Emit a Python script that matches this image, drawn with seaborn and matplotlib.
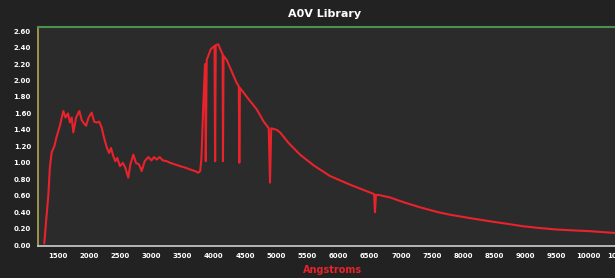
import numpy as np
import seaborn as sns
import matplotlib
matplotlib.use("Agg")
import matplotlib.pyplot as plt

# spectrum (wavelength in Angstroms, relative flux)
wavelength = [
    1280, 1310, 1344, 1370, 1399, 1440, 1479, 1530, 1585, 1620, 1660, 1692,
    1720, 1745, 1790, 1842, 1880, 1906, 1950, 1990, 2040, 2080, 2120, 2160,
    2200, 2240, 2281, 2320, 2350, 2387, 2420, 2450, 2494, 2540, 2580, 2627,
    2660, 2708, 2750, 2800, 2842, 2890, 2948, 3000, 3040, 3083, 3130, 3180,
    3243, 3300, 3380, 3457, 3550, 3617, 3697, 3750, 3780, 3800, 3830, 3858,
    3870, 3885, 3950, 4010, 4020, 4030, 4071, 4120, 4140, 4146, 4155, 4206,
    4280, 4360, 4400, 4408, 4418, 4550, 4687, 4800, 4880, 4900, 4920, 5008,
    5061, 5200, 5381, 5600, 5862, 6200, 6504, 6570, 6584, 6600, 6640, 6825,
    7050, 7306, 7600, 7787, 8100, 8429, 8700, 8958, 9200, 9498, 9750, 10032,
    10400, 10520,
]
flux = [
    0.02, 0.30, 0.60, 0.95, 1.13, 1.20, 1.32, 1.45, 1.63, 1.55, 1.60, 1.49,
    1.55, 1.37, 1.55, 1.63, 1.52, 1.49, 1.45, 1.55, 1.61, 1.50, 1.49, 1.50,
    1.43, 1.30, 1.19, 1.12, 1.18, 1.08, 1.02, 1.06, 0.96, 1.00, 0.94, 0.82,
    0.98, 1.10, 1.00, 0.98, 0.90, 1.02, 1.07, 1.03, 1.07, 1.04, 1.07, 1.03,
    1.02, 1.00, 0.98, 0.96, 0.94, 0.92, 0.90, 0.88, 0.90, 1.05, 1.70, 2.20,
    1.02, 2.25, 2.38, 2.42, 1.02, 2.43, 2.44, 2.35, 2.32, 1.02, 2.30, 2.25,
    2.12, 1.98, 1.93, 1.00, 1.91, 1.78, 1.65, 1.50, 1.42, 0.76, 1.42, 1.40,
    1.37, 1.24, 1.10, 0.97, 0.84, 0.73, 0.64, 0.62, 0.40, 0.61, 0.61, 0.58,
    0.52, 0.46, 0.40, 0.37, 0.33, 0.29, 0.26, 0.23, 0.21, 0.19, 0.18, 0.17,
    0.15, 0.145,
]
x_ticks = list(range(1500, 11000, 500))
y_ticks = [round(0.2 * i, 2) for i in range(14)]

sns.set_style("dark")
plt.rcParams["font.family"] = ["DejaVu Sans"]

fig = plt.figure(figsize=(6.15, 2.78), dpi=100, facecolor="#222222")
# axes run a few pixels past the right edge so the last tick label is cut like the original
ax = fig.add_axes([38 / 615, 1 - 246 / 278, (620 - 38) / 615, (246 - 27) / 278])
ax.set_facecolor("#2b2b2b")

sns.lineplot(x=wavelength, y=flux, ax=ax, color="#e8232c", linewidth=1.5, sort=False)

ax.set_xlim(1179, 10514)
ax.set_ylim(-0.01, 2.65)
ax.set_xticks(x_ticks)
ax.set_yticks(y_ticks)
ax.set_xticklabels([str(t) for t in x_ticks])
ax.set_yticklabels([f"{t:.2f}" for t in y_ticks])
ax.grid(False)

ax.tick_params(axis="both", colors="#bbbbbb", labelcolor="white", labelsize=5,
               length=3, width=0.8, pad=2)
for lab in ax.get_xticklabels() + ax.get_yticklabels():
    lab.set_fontweight("bold")

ax.spines["left"].set_visible(True)
ax.spines["left"].set_color("#b0a855")
ax.spines["left"].set_linewidth(1.2)
ax.spines["top"].set_visible(True)
ax.spines["top"].set_color("#4f8f4f")
ax.spines["top"].set_linewidth(1.5)
ax.spines["bottom"].set_visible(True)
ax.spines["bottom"].set_color("#cfcfcf")
ax.spines["bottom"].set_linewidth(1.2)
ax.spines["right"].set_visible(False)

ax.set_title("A0V Library", color="white", fontsize=8, fontweight="bold", pad=7,
             x=(325 - 38) / (620 - 38))
ax.set_xlabel("Angstroms", color="#e8232c", fontsize=7, fontweight="bold")
ax.xaxis.set_label_coords((333 - 38) / (620 - 38), -0.085)

fig.savefig("out.png", dpi=100, facecolor=fig.get_facecolor())
